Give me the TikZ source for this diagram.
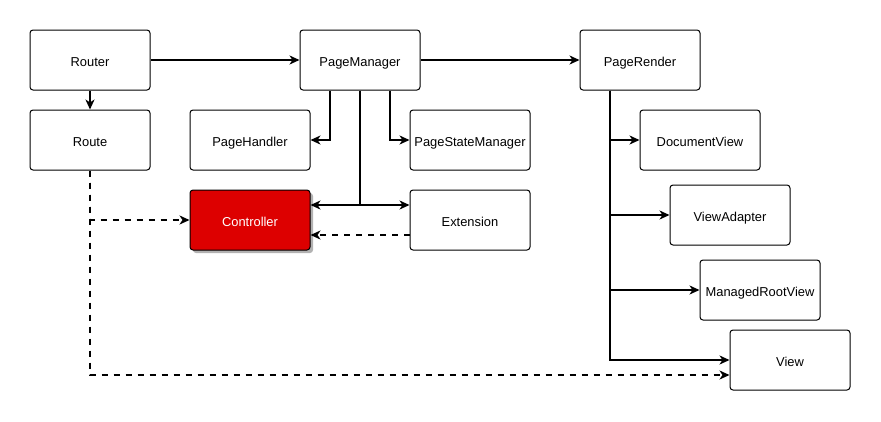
\documentclass[tikz,border=0pt]{standalone}
\usepackage{fontspec}
\setmainfont{Liberation Sans}
\usetikzlibrary{arrows.meta,shadows}
\definecolor{ctrlred}{RGB}{221,0,0}
\tikzset{
  box/.style={draw, line width=1pt, rounded corners=3pt, fill=white,
    minimum width=120pt, minimum height=60pt, inner sep=0pt,
    text height=12.5pt, text depth=0pt},
  redbox/.style={box, fill=ctrlred, text=white,
    drop shadow={shadow xshift=3pt, shadow yshift=-3pt, fill=black!30, opacity=1}},
  link/.style={line width=1.8pt, -{Stealth[length=10pt,width=9pt,inset=3pt]}},
  dashline/.style={link, dash pattern=on 6pt off 6pt}
}
\begin{document}
\begin{tikzpicture}[x=1pt,y=-1pt,font=\fontsize{12.9}{15}\selectfont]
\useasboundingbox (0,0) rectangle (881,421);

% top row
\node [box] (router) at (90,60) {Router};
\node [box] (pagemanager) at (360,60) {PageManager};
\node [box] (pagerender) at (640,60) {PageRender};
% left part
\node [box] (route) at (90,140) {Route};
\node [box] (pagehandler) at (250,140) {PageHandler};
\node [box] (pagestate) at (470,140) {PageStateManager};
\node [redbox] (controller) at (250,220) {Controller};
\node [box] (extension) at (470,220) {Extension};
% views
\node [box] (documentview) at (700,140) {DocumentView};
\node [box] (viewadapter) at (730,215) {ViewAdapter};
\node [box] (rootview) at (760,290) {ManagedRootView};
\node [box] (view) at (790,360) {View};

% router
\draw [link] (router) -- (pagemanager);
\draw [link] (router) -- (route);
\draw [link] (pagemanager) -- (pagerender);
% page manager
\draw [link] ([xshift=-30pt]pagemanager.south) |- (pagehandler.east);
\draw [link] ([xshift=30pt]pagemanager.south) |- (pagestate.west);
\draw [link] (pagemanager.south) |- ([yshift=15pt]controller.east);
\draw [link] (pagemanager.south) |- ([yshift=15pt]extension.west);
\draw [dashline] ([yshift=-15pt]extension.west) -- ([yshift=-15pt]controller.east);
% route
\draw [dashline] (route.south) |- (controller.west);
\draw [dashline] (route.south) |- ([yshift=-15pt]view.west);
% page render
\coordinate (trunk) at ([xshift=-30pt]pagerender.south);
\draw [link] (trunk) |- (documentview.west);
\draw [link] (trunk) |- (viewadapter.west);
\draw [link] (trunk) |- (rootview.west);
\draw [link] (trunk) |- (view.west);

\end{tikzpicture}
\end{document}
